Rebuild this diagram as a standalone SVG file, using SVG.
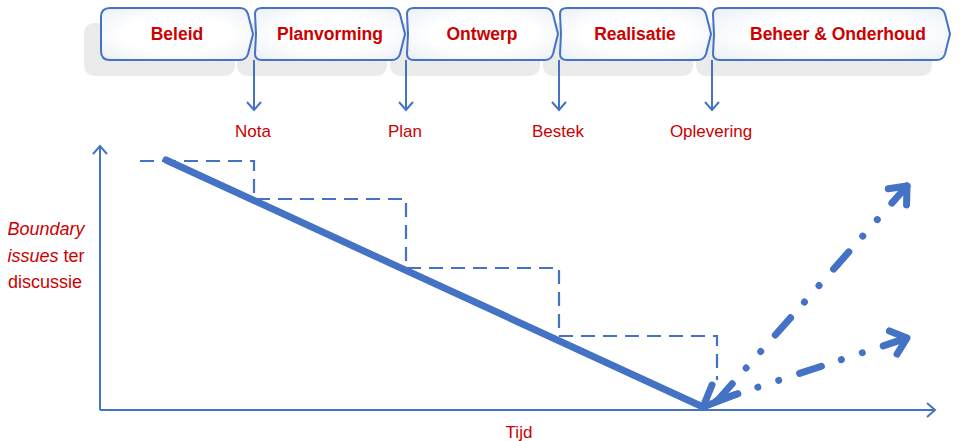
<svg xmlns="http://www.w3.org/2000/svg" width="966" height="441" viewBox="0 0 966 441">
  <defs>
    <style>
      .shadow { fill: #ebebeb; }
      .phase { fill: url(#phaseFill); stroke: #4472c4; stroke-width: 2; stroke-linejoin: round; }
      .phase-label { font-family: "Liberation Sans", Arial, sans-serif; font-weight: bold; font-size: 17.5px; fill: #cc0000; text-anchor: middle; }
      .milestone { font-family: "Liberation Sans", Arial, sans-serif; font-size: 17px; fill: #cc0000; text-anchor: middle; }
      .axis-label { font-family: "Liberation Sans", Arial, sans-serif; font-size: 18px; fill: #cc0000; text-anchor: middle; }
      .thin { fill: none; stroke: #4472c4; stroke-width: 2; }
      .steps { fill: none; stroke: #4472c4; stroke-width: 2.2; stroke-dasharray: 14 8; }
      .thick { fill: none; stroke: #4472c4; stroke-width: 7; stroke-linecap: round; stroke-linejoin: round; }
      .dashdot { fill: none; stroke: #4472c4; stroke-width: 7; stroke-linecap: round; stroke-dasharray: 23 21 0.01 22 0.01 22; }
    </style>
    <radialGradient id="phaseFill" cx="50%" cy="50%" r="70%">
      <stop offset="0.5" stop-color="#ffffff"/>
      <stop offset="1" stop-color="#eaeff7"/>
    </radialGradient>
    <marker id="openHead" viewBox="-10 -10 20 20" refX="0" refY="0" markerWidth="20" markerHeight="20" markerUnits="userSpaceOnUse" orient="auto">
      <path d="M-8,-7 L0,0 L-8,7" fill="none" stroke="#4472c4" stroke-width="2"/>
    </marker>
    <marker id="boldHead" viewBox="-20 -16 24 32" refX="0" refY="0" markerWidth="24" markerHeight="32" markerUnits="userSpaceOnUse" orient="auto">
      <path d="M-14.5,-12.2 L0,0 L-14.5,12.2" fill="none" stroke="#4472c4" stroke-width="7" stroke-linecap="round" stroke-linejoin="round"/>
    </marker>
  </defs>

  <!-- phase shadows -->
  <g id="shadows">
    <rect class="shadow" x="84" y="23" width="151" height="53" rx="10"/>
    <rect class="shadow" x="237" y="23" width="150" height="53" rx="10"/>
    <rect class="shadow" x="390" y="23" width="150" height="53" rx="10"/>
    <rect class="shadow" x="543" y="23" width="150" height="53" rx="10"/>
    <rect class="shadow" x="696" y="23" width="236" height="53" rx="10"/>
  </g>

  <!-- phase chevrons -->
  <g id="beleid">
    <path class="phase" d="M110,8 H240 Q246,8 248,14 L253,34 L248,54 Q246,60 240,60 H110 Q101,60 101,51 V17 Q101,8 110,8 Z"/>
    <text class="phase-label" x="177" y="40">Beleid</text>
  </g>
  <g id="planvorming">
    <path class="phase" d="M262,8 H392 Q398,8 400,14 L405,34 L400,54 Q398,60 392,60 H262 Q255,60 255,54 L256,34 L255,14 Q255,8 262,8 Z"/>
    <text class="phase-label" x="330" y="40">Planvorming</text>
  </g>
  <g id="ontwerp">
    <path class="phase" d="M414,8 H545 Q551,8 553,14 L558,34 L553,54 Q551,60 545,60 H414 Q407,60 407,54 L408,34 L407,14 Q407,8 414,8 Z"/>
    <text class="phase-label" x="482" y="40">Ontwerp</text>
  </g>
  <g id="realisatie">
    <path class="phase" d="M567,8 H698 Q704,8 706,14 L711,34 L706,54 Q704,60 698,60 H567 Q560,60 560,54 L561,34 L560,14 Q560,8 567,8 Z"/>
    <text class="phase-label" x="635" y="40">Realisatie</text>
  </g>
  <g id="beheer">
    <path class="phase" d="M720,8 H937 Q943,8 945,14 L950,34 L945,54 Q943,60 937,60 H720 Q713,60 713,54 L714,34 L713,14 Q713,8 720,8 Z"/>
    <text class="phase-label" x="838" y="40">Beheer &amp; Onderhoud</text>
  </g>

  <!-- milestones -->
  <g id="nota"><text class="milestone" x="253" y="137">Nota</text></g>
  <g id="plan"><text class="milestone" x="405" y="137">Plan</text></g>
  <g id="bestek"><text class="milestone" x="558" y="137">Bestek</text></g>
  <g id="oplevering"><text class="milestone" x="711" y="137">Oplevering</text></g>

  <!-- axis labels -->
  <g id="y-label">
    <text class="axis-label" x="46" y="235"><tspan font-style="italic">Boundary</tspan></text>
    <text class="axis-label" x="46" y="262"><tspan font-style="italic">issues</tspan> ter</text>
    <text class="axis-label" x="45" y="288">discussie</text>
  </g>
  <g id="x-label">
    <text class="milestone" x="519" y="438">Tijd</text>
  </g>

  <g id="connectors">
    <!-- phase transitions to milestones -->
    <path class="thin" d="M254,60 V110" marker-end="url(#openHead)"/>
    <path class="thin" d="M406,60 V110" marker-end="url(#openHead)"/>
    <path class="thin" d="M559,60 V110" marker-end="url(#openHead)"/>
    <path class="thin" d="M712,60 V110" marker-end="url(#openHead)"/>

    <!-- axes -->
    <path class="thin" d="M100,410 V146" marker-end="url(#openHead)"/>
    <path class="thin" d="M100,410 H935" marker-end="url(#openHead)"/>

    <!-- stepwise decline -->
    <path class="steps" d="M140,161 H254 V199 H406 V268 H559 V336 H717 V380"/>

    <!-- overall decline -->
    <path class="thick" d="M166,160 L703,407"/>
    <polyline class="thick" points="712,385 703,407 737,394"/>

    <!-- possible futures -->
    <path class="dashdot" d="M717,401 L907,186" marker-end="url(#boldHead)"/>
    <path class="dashdot" d="M716,401 L907,338" marker-end="url(#boldHead)"/>
  </g>
</svg>
